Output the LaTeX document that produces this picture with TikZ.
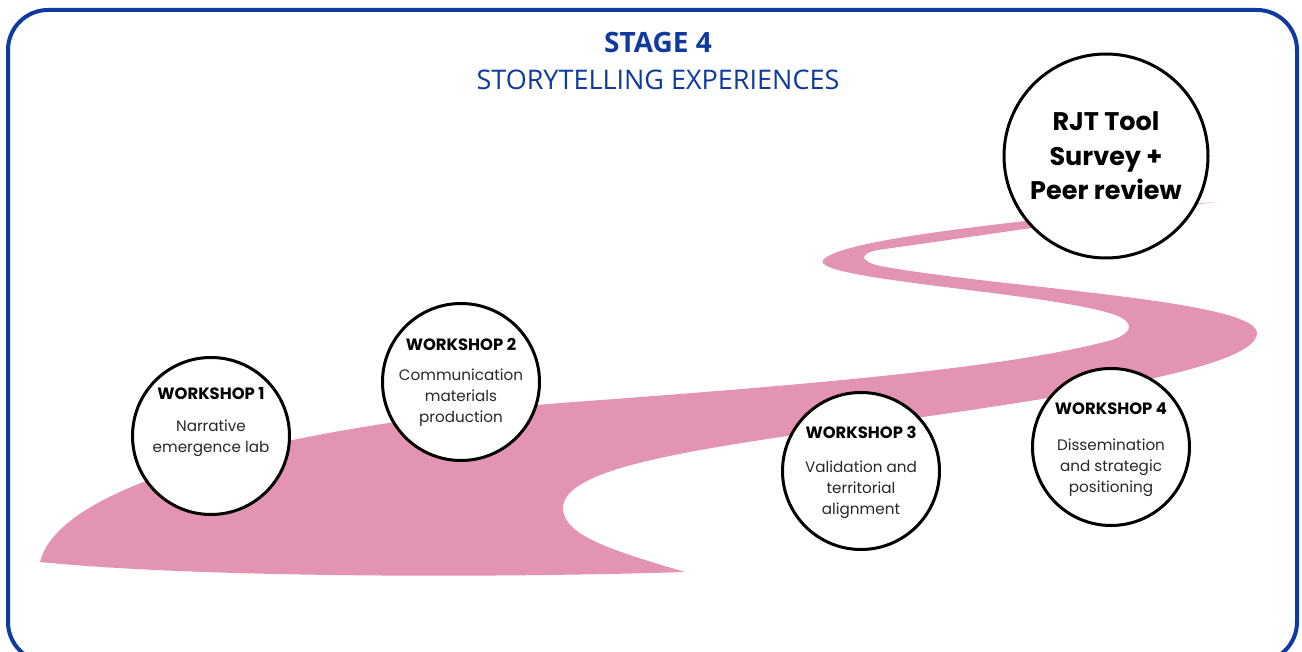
\documentclass[tikz,border=0pt]{standalone}
\usepackage{fontspec}
\newfontfamily\titlefont{Open Sans}
\newfontfamily\circfont{Poppins}
\definecolor{stageblue}{RGB}{14,58,160}
\definecolor{roadpink}{RGB}{227,148,179}
\definecolor{bodygray}{RGB}{40,40,40}
\begin{document}
\begin{tikzpicture}[x=1pt,y=-1pt,
  frame/.style={draw=stageblue, line width=4pt, rounded corners=40pt},
  wscircle/.style={circle, draw=black, line width=3pt, fill=white, minimum size=157pt, inner sep=0pt},
  bigcircle/.style={circle, draw=black, line width=3pt, fill=white, minimum size=204pt, inner sep=0pt},
  wstitle/.style={font=\circfont\bfseries\fontsize{16.4}{17}\selectfont, inner sep=0pt},
  wsbody/.style={font=\circfont\fontsize{15.2}{21}\selectfont, align=center, text=bodygray, inner sep=0pt},
  bigtext/.style={font=\circfont\bfseries\fontsize{25.5}{34.5}\selectfont, align=center, inner sep=0pt},
  headbold/.style={font=\titlefont\bfseries\fontsize{28}{28}\selectfont, text=stageblue, inner sep=0pt},
  headreg/.style={font=\titlefont\fontsize{27}{28}\selectfont, text=stageblue, inner sep=0pt}]
\useasboundingbox (0,0) rectangle (1302,652);
\clip (0,0) rectangle (1302,652);
\fill[white] (0,0) rectangle (1302,652);
\draw[frame] (8,10) rectangle (1297,662);

% road
\fill[roadpink]
  (1215,202) .. controls (1000,222) and (840,240) .. (823,260)
  .. controls (810,280) and (1060,293) .. (1118,316)
  .. controls (1135,324) and (1132,333) .. (1112,340)
  .. controls (1020,365) and (850,382) .. (560,403)
  .. controls (300,425) and (60,480) .. (40,562)
  .. controls (200,578) and (500,578) .. (685,572)
  .. controls (610,550) and (563,535) .. (563,508)
  .. controls (563,470) and (680,452) .. (807,433)
  .. controls (1050,400) and (1257,370) .. (1257,333)
  .. controls (1257,300) and (1000,288) .. (880,266)
  .. controls (858,261) and (858,252) .. (885,249)
  .. controls (950,240) and (1050,225) .. (1215,202)
  -- cycle;

% title
\node[headbold] (stage) at (658,43) {STAGE 4};
\node[headreg] (sub) at (658,80) {STORYTELLING EXPERIENCES};

% circles
\node[wscircle] (w1) at (211,436) {};
\node[wscircle] (w2) at (461,382) {};
\node[wscircle] (w3) at (861,471) {};
\node[wscircle] (w4) at (1111,447) {};
\node[bigcircle] (rjt) at (1106,156) {};

\node[wstitle] (w1t) at (211,394) {WORKSHOP 1};
\node[wsbody] (w1b) at (211,438) {Narrative\\emergence lab};
\node[wstitle] (w2t) at (461,344) {WORKSHOP 2};
\node[wsbody] (w2b) at (461,398) {Communication\\materials\\production};
\node[wstitle] (w3t) at (861,432) {WORKSHOP 3};
\node[wsbody] (w3b) at (861,490) {Validation and\\territorial\\alignment};
\node[wstitle] (w4t) at (1111,409) {WORKSHOP 4};
\node[wsbody] (w4b) at (1111,468) {Dissemination\\and strategic\\positioning};
\node[bigtext] (rjtt) at (1106,156) {RJT Tool\\Survey +\\Peer review};
\end{tikzpicture}
\end{document}
